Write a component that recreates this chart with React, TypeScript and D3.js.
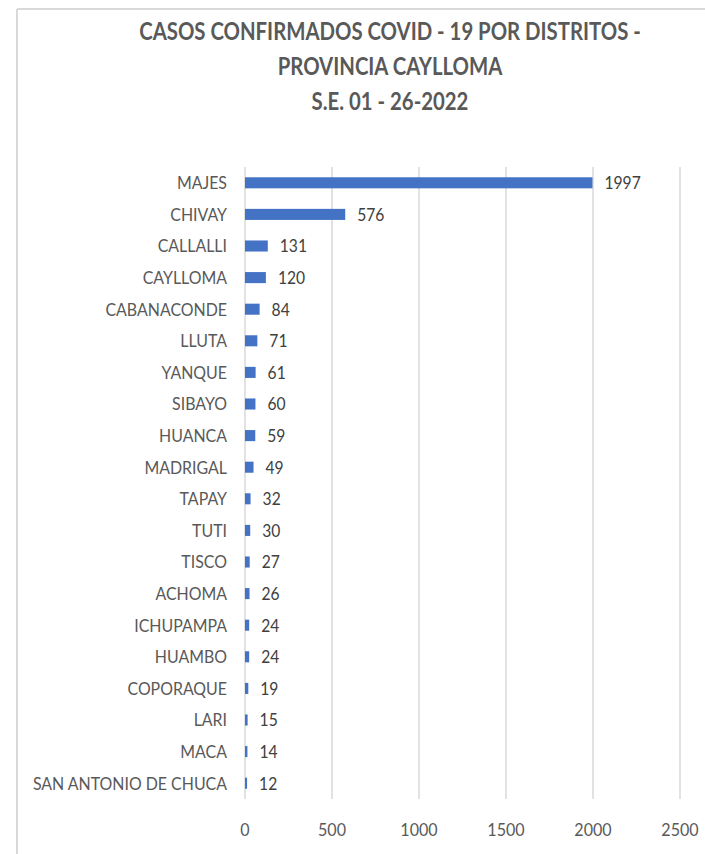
import React from "react";
import * as d3 from "d3";

const categories = ["MAJES","CHIVAY","CALLALLI","CAYLLOMA","CABANACONDE","LLUTA","YANQUE","SIBAYO","HUANCA","MADRIGAL","TAPAY","TUTI","TISCO","ACHOMA","ICHUPAMPA","HUAMBO","COPORAQUE","LARI","MACA","SAN ANTONIO DE CHUCA"];
const values = [1997,576,131,120,84,71,61,60,59,49,32,30,27,26,24,24,19,15,14,12];
const ticks = [0,500,1000,1500,2000,2500];
const titleLines = ["CASOS CONFIRMADOS COVID - 19 POR DISTRITOS -","PROVINCIA CAYLLOMA","S.E. 01 - 26-2022"];

const font = "Lato, 'Open Sans', sans-serif";

function T({ x, y, sx, children, ...rest }: any) {
  return (
    <text transform={`translate(${x},${y}) scale(${sx},1)`} fontFamily={font} {...rest}>{children}</text>
  );
}

export default function App() {
  const W = 705, H = 854;
  const x = d3.scaleLinear().domain([0, 2500]).range([245, 680]);
  const y = d3.scaleBand().domain(categories).range([167, 799]).paddingInner(0.65).paddingOuter(0.325);
  const gray = "#595959";
  return (
    <svg width={W} height={H} style={{position:"absolute", left:0, top:0}}>
      <rect x={0} y={0} width={W} height={H} fill="#fff" />
      <line x1={17} y1={9} x2={W} y2={9} stroke="#d9d9d9" strokeWidth={2} />
      <line x1={17} y1={9} x2={17} y2={H} stroke="#d9d9d9" strokeWidth={2} />
      {titleLines.map((t, i) => (
        <T key={i} x={390} y={40 + i * 35} sx={0.83} textAnchor="middle" fontWeight="bold" fontSize={24.5} fill={gray}>{t}</T>
      ))}
      {ticks.map(t => (
        <g key={t}>
          <line x1={x(t)} x2={x(t)} y1={167} y2={799} stroke="#d9d9d9" strokeWidth={1.5} />
          <T x={x(t)} y={836} sx={0.92} textAnchor="middle" fontSize={17.5} fill={gray}>{t}</T>
        </g>
      ))}
      {categories.map((c, i) => {
        const cy = y(c)! + y.bandwidth() / 2;
        return (
          <g key={c}>
            <rect x={x(0)} y={y(c)!} width={x(values[i]) - x(0)} height={y.bandwidth()} fill="#4472C4" />
            <T x={227} y={cy + 6.3} sx={0.91} textAnchor="end" fontSize={17.5} fill={gray}>{c}</T>
            <T x={x(values[i]) + 12} y={cy + 6.3} sx={0.92} fontSize={17} fill="#404040">{values[i]}</T>
          </g>
        );
      })}
    </svg>
  );
}
